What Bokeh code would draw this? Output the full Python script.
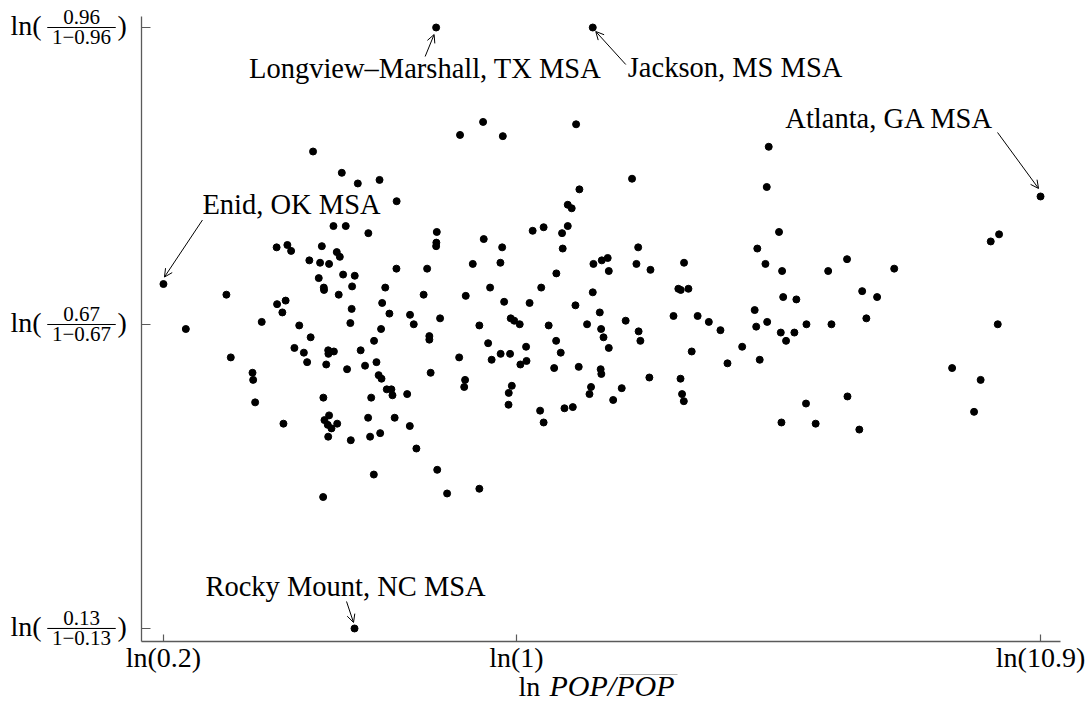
from bokeh.plotting import figure
from bokeh.models import (ColumnDataSource, Label, Arrow, OpenHead, BoxAnnotation,
                          FixedTicker, Range1d)
from bokeh.embed import file_html
from bokeh.resources import INLINE

# ---------------- data (x: ln POP/mean POP, y: logit of share) ----------------
ln_pop_ratio = [
    -0.927, -0.834, -1.093, -1.044, -1.027, -0.887, -0.819, -0.805, -0.944, -0.895,
    -0.854, -0.901, -0.878, -0.877, -0.810, -1.322, -1.091, -1.052, -1.067, -1.507,
    -1.161, -0.990, -0.938, -1.012, -0.969, -0.954, -1.302, -0.858, -0.857, -0.832,
    -0.867, -1.203, -1.200, -1.191, -0.880, -1.062, -0.875, -0.854, -0.860, -0.843,
    -0.817, -0.858, -0.881, -0.257, -0.062, -0.796, -0.723, -0.624, -0.546, -0.778,
    -0.675, -0.363, -0.365, -0.366, -0.149, -0.065, -0.790, -0.737, -0.749, -0.547,
    -0.407, -0.199, -0.073, -0.598, -0.423, -0.231, -0.120, -0.056, 0.060, -0.612,
    -0.751, -0.579, -0.485, -0.468, -0.348, -0.757, -0.617, -0.649, -0.397, -0.397,
    -0.169, -0.026, -0.010, 0.015, -0.129, 0.044, -0.710, -0.638, -0.772, -0.690,
    -0.391, -0.261, -0.113, -0.072, -0.029, 0.018, 0.046, -0.628, -0.615, -0.591,
    -0.570, -0.565, -0.498, -0.662, -0.234, -0.238, -0.021, -0.035, -0.036, -0.676,
    -0.555, -0.486, -0.755, -0.667, -0.621, -0.456, -0.361, -0.650, -0.316, -0.169,
    -0.152, 0.272, 0.527, 0.287, 0.234, 0.252, 0.074, 0.124, 0.234, 0.208,
    0.211, 0.555, 0.351, 0.389, 0.416, 0.421, 0.547, 0.611, 0.764, 0.182,
    0.113, 0.348, 0.738, 0.749, 0.784, 0.269, 0.147, 0.322, 0.380, 0.386,
    0.397, 0.498, 0.716, 0.826, 0.877, 0.930, 0.557, 0.565, 0.181, 0.202,
    0.421, 0.799, 0.172, 0.284, 0.384, 0.387, 0.606, 0.748, 0.340, 0.333,
    0.480, 0.441, 0.755, 0.763, 0.108, 0.124, 0.219, 0.257, 1.150, 1.141,
    1.197, 1.098, 1.135, 1.211, 1.421, 1.507, 1.722, 1.216, 1.276, 1.576,
    1.644, 1.086, 1.093, 1.143, 1.205, 1.267, 1.229, 1.322, 1.436, 1.595,
    1.029, 0.962, 1.109, 1.320, 1.509, 1.208, 1.364, 1.563, 2.200, 2.162,
    2.194, 1.986, 2.116, 2.086,
]
logit_share = [
    2.13, 1.50, 1.32, 1.34, 1.29, 1.33, 1.28, 1.24, 1.21, 1.19,
    1.18, 1.06, 0.98, 0.96, 0.92, 0.92, 0.84, 0.87, 0.77, 0.63,
    0.69, 0.66, 0.56, 0.47, 0.43, 0.35, 0.39, 0.45, 0.42, 0.44,
    0.33, 0.26, 0.20, 0.01, 0.05, -0.17, -0.14, -0.10, -0.18, -0.21,
    -0.17, -0.28, -0.79, 2.27, 2.26, 1.95, 1.86, 1.89, 1.71, 1.50,
    1.44, 1.45, 1.36, 1.33, 1.39, 1.32, 1.09, 1.08, 0.99, 1.14,
    1.14, 1.18, 1.19, 0.98, 0.92, 0.91, 0.98, 0.86, 0.85, 0.85,
    0.80, 0.76, 0.75, 0.67, 0.72, 0.68, 0.63, 0.53, 0.57, 0.54,
    0.66, 0.72, 0.70, 0.67, 0.51, 0.48, 0.45, 0.35, 0.29, 0.32,
    0.26, 0.39, 0.37, 0.42, 0.42, 0.33, 0.36, 0.24, 0.21, 0.12,
    0.12, 0.07, 0.08, 0.05, 0.20, 0.14, 0.15, 0.09, -0.01, -0.12,
    -0.12, -0.19, -0.31, -0.28, -0.25, -0.38, -0.56, -0.60, -0.76, -0.72,
    2.38, 2.36, 1.90, 1.81, 1.68, 1.65, 1.46, 1.49, 1.50, 1.44,
    1.31, 1.32, 1.18, 1.21, 1.23, 1.12, 1.18, 1.13, 1.19, 1.10,
    0.98, 0.94, 0.97, 0.96, 0.97, 0.83, 0.66, 0.67, 0.77, 0.63,
    0.56, 0.70, 0.74, 0.74, 0.69, 0.62, 0.61, 0.53, 0.53, 0.43,
    0.47, 0.44, 0.30, 0.31, 0.29, 0.25, 0.22, 0.21, 0.14, 0.08,
    0.13, 0.03, 0.08, 0.02, -0.06, -0.16, -0.04, -0.03, 2.17, 1.83,
    1.45, 1.31, 1.18, 1.12, 1.12, 1.22, 1.14, 0.90, 0.88, 0.95,
    0.90, 0.79, 0.65, 0.69, 0.60, 0.60, 0.53, 0.67, 0.67, 0.72,
    0.48, 0.34, 0.37, 0.00, 0.06, -0.16, -0.17, -0.22, 1.43, 1.37,
    0.67, 0.30, 0.20, -0.07,
]

label_names = ["Longview\u2013Marshall, TX MSA", "Jackson, MS MSA", "Atlanta, GA MSA",
               "Enid, OK MSA", "Rocky Mount, NC MSA"]
label_x = [-0.366, 0.348, 2.389, -1.609, -0.738]
label_y = [3.178, 3.178, 1.75, 1.01, -1.901]

x_tick_values = [-1.609, 0.0, 2.389]
x_tick_labels = ["ln(0.2)", "ln(1)", "ln(10.9)"]
y_tick_values = [-1.901, 0.668, 3.178]
y_tick_shares = ["0.13", "0.67", "0.96"]

# ---------------- layout ----------------
W, H = 1088, 707
AX_X = (-1.709, 2.480)          # extent of the x axis line (data)
AX_Y = (-2.011, 3.271)          # extent of the y axis line (data)
AX_LEFT_PX, AX_RIGHT_PX, AX_TOP_PX, AX_BOTTOM_PX = 141, 1060, 16, 641
SX = (AX_X[1] - AX_X[0]) / (AX_RIGHT_PX - AX_LEFT_PX)   # data per pixel
SY = (AX_Y[1] - AX_Y[0]) / (AX_BOTTOM_PX - AX_TOP_PX)
X_RANGE = (AX_X[0] - AX_LEFT_PX * SX, AX_X[1] + (W - AX_RIGHT_PX) * SX)
Y_RANGE = (AX_Y[0] - (H - AX_BOTTOM_PX) * SY, AX_Y[1] + AX_TOP_PX * SY)
FONT = "Liberation Serif"
AXIS_COLOR = "#5a5a5a"


def base_fix(font_px):
    # labels render about a third of an em below the requested alphabetic baseline
    return round(0.32 * font_px, 1)


p = figure(width=W, height=H, x_range=Range1d(*X_RANGE), y_range=Range1d(*Y_RANGE),
           output_backend="svg", toolbar_location=None,
           min_border_left=0, min_border_right=0, min_border_top=0, min_border_bottom=0)
p.outline_line_color = None
p.xgrid.visible = False
p.ygrid.visible = False
p.background_fill_color = "white"
p.border_fill_color = "white"

for ax in (p.xaxis[0], p.yaxis[0]):
    ax.axis_line_color = AXIS_COLOR
    ax.axis_line_width = 1.3
    ax.major_tick_line_color = AXIS_COLOR
    ax.major_tick_line_width = 1.2
    ax.minor_tick_line_color = None
    ax.major_tick_out = 0

p.xaxis.fixed_location = AX_Y[0]
p.xaxis.bounds = AX_X
p.xaxis.ticker = FixedTicker(ticks=x_tick_values)
p.xaxis.major_label_overrides = dict(zip(x_tick_values, x_tick_labels))
p.xaxis.major_tick_in = 7
p.xaxis.major_label_text_font = FONT
p.xaxis.major_label_text_font_size = "28px"
p.xaxis.major_label_text_color = "black"
p.xaxis.major_label_standoff = 0

p.yaxis.fixed_location = AX_X[0]
p.yaxis.bounds = AX_Y
p.yaxis.ticker = FixedTicker(ticks=y_tick_values)
p.yaxis.major_label_overrides = {v: "" for v in y_tick_values}
p.yaxis.major_tick_in = 9
p.yaxis.major_label_text_font_size = "0px"

src = ColumnDataSource(dict(x=ln_pop_ratio + label_x, y=logit_share + label_y))
p.scatter("x", "y", source=src, size=7, color="black")

# ---- annotations: (text dx, text dy, align, arrow start dx,dy, arrow end dx,dy) in px, y down
annot_layout = [
    (-11, 50, "center", (-11, 29), (-2, 7)),
    (35, 49, "left", (33, 37), (3, 4)),
    (-47, -69, "right", (-43, -64), (-2, -8)),
    (39, -70, "left", (39, -64), (1, -7)),
    (-9, -33, "center", (-8, -27), (-1, -6)),
]
for name, lx, ly, (tdx, tdy, align, a0, a1) in zip(label_names, label_x, label_y, annot_layout):
    p.add_layout(Label(x=lx, y=ly, x_offset=tdx, y_offset=-tdy + base_fix(28.5), text=name,
                       text_font=FONT, text_font_size="28.5px", text_color="black",
                       text_align=align, text_baseline="alphabetic"))
    p.add_layout(Arrow(x_start=lx + a0[0] * SX, y_start=ly - a0[1] * SY,
                       x_end=lx + a1[0] * SX, y_end=ly - a1[1] * SY,
                       line_width=1, line_color="black",
                       end=OpenHead(size=8, line_width=1, line_color="black")))

# ---- y tick labels ln(s / (1 - s)) drawn as stacked fractions
FR = 21
for v, s in zip(y_tick_values, y_tick_shares):
    p.add_layout(Label(x=10, y=v, x_units="screen", text="ln(", y_offset=-7 + base_fix(28),
                       text_font=FONT, text_font_size="28px", text_color="black",
                       text_align="left", text_baseline="alphabetic"))
    p.add_layout(Label(x=81, y=v, x_units="screen", text=s, y_offset=4 + base_fix(FR),
                       text_font=FONT, text_font_size=f"{FR}px", text_color="black",
                       text_align="center", text_baseline="alphabetic"))
    p.add_layout(Label(x=81, y=v, x_units="screen", text="1\u2212" + s,
                       y_offset=-16 + base_fix(FR),
                       text_font=FONT, text_font_size=f"{FR}px", text_color="black",
                       text_align="center", text_baseline="alphabetic"))
    p.add_layout(BoxAnnotation(left=47, right=115, left_units="screen", right_units="screen",
                               top=v, bottom=v, fill_alpha=0, line_color="black",
                               line_width=1, line_alpha=1))
    p.add_layout(Label(x=117, y=v, x_units="screen", text=")", y_offset=-7 + base_fix(28),
                       text_font=FONT, text_font_size="28px", text_color="black",
                       text_align="left", text_baseline="alphabetic"))

# ---- x axis title: ln POP / overline(POP)
p.add_layout(Label(x=518, y=H - 695 + base_fix(28), x_units="screen", y_units="screen",
                   text="ln", text_font=FONT, text_font_size="28px", text_color="black",
                   text_align="left", text_baseline="alphabetic"))
p.add_layout(Label(x=549, y=H - 695 + base_fix(30), x_units="screen", y_units="screen",
                   text="POP/POP", text_font=FONT, text_font_size="30px",
                   text_font_style="italic", text_color="black",
                   text_align="left", text_baseline="alphabetic"))
p.add_layout(BoxAnnotation(left=619, right=677, top=H - 674, bottom=H - 674,
                           left_units="screen", right_units="screen",
                           top_units="screen", bottom_units="screen",
                           fill_alpha=0, line_color="black", line_width=1.2))

open("out.html", "w").write(file_html(p, INLINE))
